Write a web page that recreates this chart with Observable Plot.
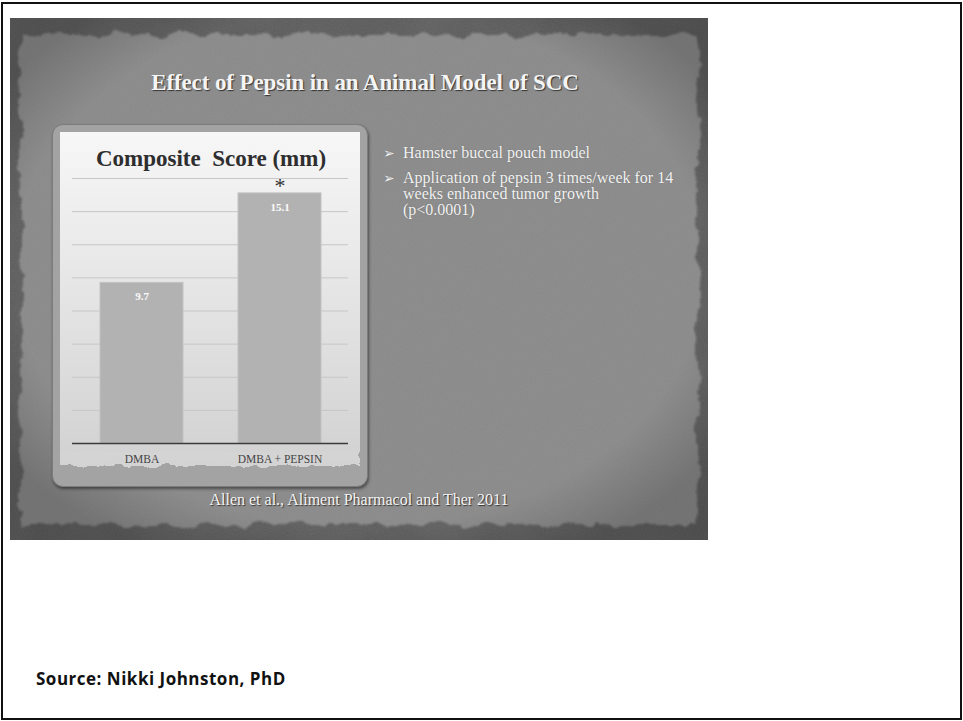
<!DOCTYPE html>
<html>
<head>
<meta charset="utf-8">
<script src="https://cdn.jsdelivr.net/npm/d3@7"></script>
<script src="https://cdn.jsdelivr.net/npm/@observablehq/plot@0.6"></script>
<style>
  html, body { margin: 0; padding: 0; background: #fff; }
  body { width: 963px; height: 721px; position: relative; overflow: hidden; }
  .frame { position: absolute; left: 1px; top: 2px; width: 961px; height: 718px; box-sizing: border-box; border: 2px solid #111; }
  .slide { position: absolute; left: 10px; top: 18px; width: 698px; height: 522px; overflow: hidden; }
  .slide svg.bg { position: absolute; left: 0; top: 0; }
  .serif { font-family: "Liberation Serif", "DejaVu Serif", serif; }
  .title { position: absolute; left: 0; width: 710px; top: 52px; text-align: center; font-size: 23px; font-weight: bold; color: #f4f4f4; text-shadow: 1px 1px 1px #333; letter-spacing: -0.1px; }
  .panel { position: absolute; left: 42px; top: 106px; width: 316px; height: 363px; border-radius: 11px; background: #a3a3a3; box-shadow: 1px 2px 3px rgba(0,0,0,0.45); border: 1px solid #7c7c7c; box-sizing: border-box; }
  .paper { position: absolute; left: 7px; top: 7px; width: 300px; height: 344px; }
  .panel-title { position: absolute; left: 0; width: 316px; top: 21px; text-align: center; font-size: 23px; font-weight: bold; color: #2e2e2e; white-space: pre; }
  .chart { position: absolute; left: 7px; top: 40px; }
  .bullets { position: absolute; left: 373px; top: 127px; width: 310px; font-size: 16px; color: #f2f2f2; line-height: 16.3px; text-shadow: 0 0 1px #666; white-space: nowrap; }
  .bullets .item { position: relative; padding-left: 20px; margin-bottom: 8.5px; }
  .bullets .item::before { content: "\27A2"; position: absolute; left: 0; top: 0; font-family: "DejaVu Sans", sans-serif; font-size: 14px; }
  .cite { position: absolute; left: 0; width: 698px; top: 473px; text-align: center; font-size: 16px; color: #f3f3f3; text-shadow: 1px 1px 1px #333; }
  .source { position: absolute; left: 36px; top: 667px; font-family: "Open Sans", Lato, "Liberation Sans", sans-serif; font-weight: 700; font-size: 17px; letter-spacing: 0.5px; color: #111; }
</style>
</head>
<body>
<div class="frame"></div>
<div class="slide" id="slide"></div>
<div class="source">Source: Nikki Johnston, PhD</div>
<script>
// Composite score (mm) for each treatment group
const categories = ["DMBA", "DMBA + PEPSIN"];
const scores = [9.7, 15.1];
const markers = ["", "*"];
const gridValues = [2, 4, 6, 8, 10, 12, 14, 16];

const slideTitle = "Effect of Pepsin in an Animal Model of SCC";
const chartTitle = "Composite  Score (mm)";
// each bullet is given as its display lines
const bulletLines = [
  ["Hamster buccal pouch model"],
  ["Application of pepsin 3 times/week for 14", "weeks enhanced tumor growth", "(p<0.0001)"]
];
const citation = "Allen et al., Aliment Pharmacol and Ther 2011";

const data = categories.map((category, i) => ({category, score: scores[i], marker: markers[i]}));

const slide = document.getElementById("slide");

// Textured slide backdrop with a torn paper sheet
slide.innerHTML = `
<svg class="bg" width="698" height="522">
  <defs>
    <filter id="torn" x="-5%" y="-5%" width="110%" height="110%">
      <feTurbulence type="fractalNoise" baseFrequency="0.05" numOctaves="5" seed="7" result="n"/>
      <feDisplacementMap in="SourceGraphic" in2="n" scale="14" xChannelSelector="R" yChannelSelector="G"/>
      <feGaussianBlur stdDeviation="0.8"/>
    </filter>
    <filter id="grain">
      <feTurbulence type="fractalNoise" baseFrequency="0.9" numOctaves="2" seed="3"/>
      <feColorMatrix type="matrix" values="0 0 0 0 0.5  0 0 0 0 0.5  0 0 0 0 0.5  0 0 0 0.16 0"/>
    </filter>
    <filter id="blotch">
      <feTurbulence type="fractalNoise" baseFrequency="0.015" numOctaves="3" seed="11"/>
      <feColorMatrix type="matrix" values="0 0 0 0 0.2  0 0 0 0 0.2  0 0 0 0 0.2  0 0 0 0.3 -0.05"/>
    </filter>
    <filter id="paperTorn" x="-5%" y="-5%" width="110%" height="110%">
      <feTurbulence type="fractalNoise" baseFrequency="0.06" numOctaves="4" seed="5" result="n"/>
      <feDisplacementMap in="SourceGraphic" in2="n" scale="9" xChannelSelector="R" yChannelSelector="G"/>
    </filter>
    <radialGradient id="vign" cx="50%" cy="48%" r="62%">
      <stop offset="0.8" stop-color="#000" stop-opacity="0"/>
      <stop offset="1" stop-color="#000" stop-opacity="0.18"/>
    </radialGradient>
  </defs>
  <rect width="698" height="522" fill="#575757"/>
  <rect width="698" height="522" filter="url(#blotch)"/>
  <rect x="11" y="17" width="677" height="490" fill="#888" filter="url(#torn)"/>
  <rect width="698" height="522" filter="url(#grain)"/>
  <rect width="698" height="522" fill="url(#vign)"/>
</svg>`;

const title = document.createElement("div");
title.className = "title serif";
title.textContent = slideTitle;
slide.appendChild(title);

// Chart panel
const panel = document.createElement("div");
panel.className = "panel";
panel.innerHTML = `
<svg class="paper" width="300" height="344">
  <defs>
    <linearGradient id="paperFill" x1="0" y1="0" x2="0" y2="1">
      <stop offset="0" stop-color="#f7f7f7"/>
      <stop offset="1" stop-color="#d3d3d3"/>
    </linearGradient>
  </defs>
  <rect x="0" y="-10" width="300" height="344" fill="url(#paperFill)" filter="url(#paperTorn)"/>
  <rect x="0" y="0" width="300" height="320" fill="url(#paperFill)"/>
</svg>`;
slide.appendChild(panel);

const ptitle = document.createElement("div");
ptitle.className = "panel-title serif";
ptitle.textContent = chartTitle;
panel.appendChild(ptitle);

const chart = Plot.plot({
  width: 300,
  height: 310,
  marginLeft: 12,
  marginRight: 12,
  marginTop: 13,
  marginBottom: 32,
  x: {domain: categories, paddingInner: 0.4, paddingOuter: 0.2, label: null},
  y: {domain: [0, 16], axis: null},
  style: {background: "transparent", fontFamily: "'Liberation Serif', 'DejaVu Serif', serif", color: "#444", overflow: "visible"},
  marks: [
    Plot.ruleY(gridValues, {stroke: "#c6c6c6", strokeWidth: 1}),
    Plot.barY(data, {x: "category", y: "score", fill: "#b2b2b2", stroke: "#c2c2c2", strokeWidth: 1}),
    Plot.ruleY([0], {stroke: "#3a3a3a", strokeWidth: 1.6}),
    Plot.text(data, {x: "category", y: "score", text: d => d.score.toFixed(1), dy: 14, fill: "#fbfbfb", fontSize: 11, fontWeight: "bold"}),
    Plot.text(data, {x: "category", y: "score", text: "marker", dy: 0, lineAnchor: "bottom", fontSize: 22, fill: "#333"}),
    Plot.axisX({tickSize: 0, tickPadding: 11, fontSize: 11.5, label: null})
  ]
});
chart.classList.add("chart");
panel.appendChild(chart);

const bl = document.createElement("div");
bl.className = "bullets serif";
bulletLines.forEach(lines => {
  const d = document.createElement("div");
  d.className = "item";
  lines.forEach((t, i) => {
    if (i) d.appendChild(document.createElement("br"));
    d.appendChild(document.createTextNode(t));
  });
  bl.appendChild(d);
});
slide.appendChild(bl);

const cite = document.createElement("div");
cite.className = "cite serif";
cite.textContent = citation;
slide.appendChild(cite);
</script>
</body>
</html>
